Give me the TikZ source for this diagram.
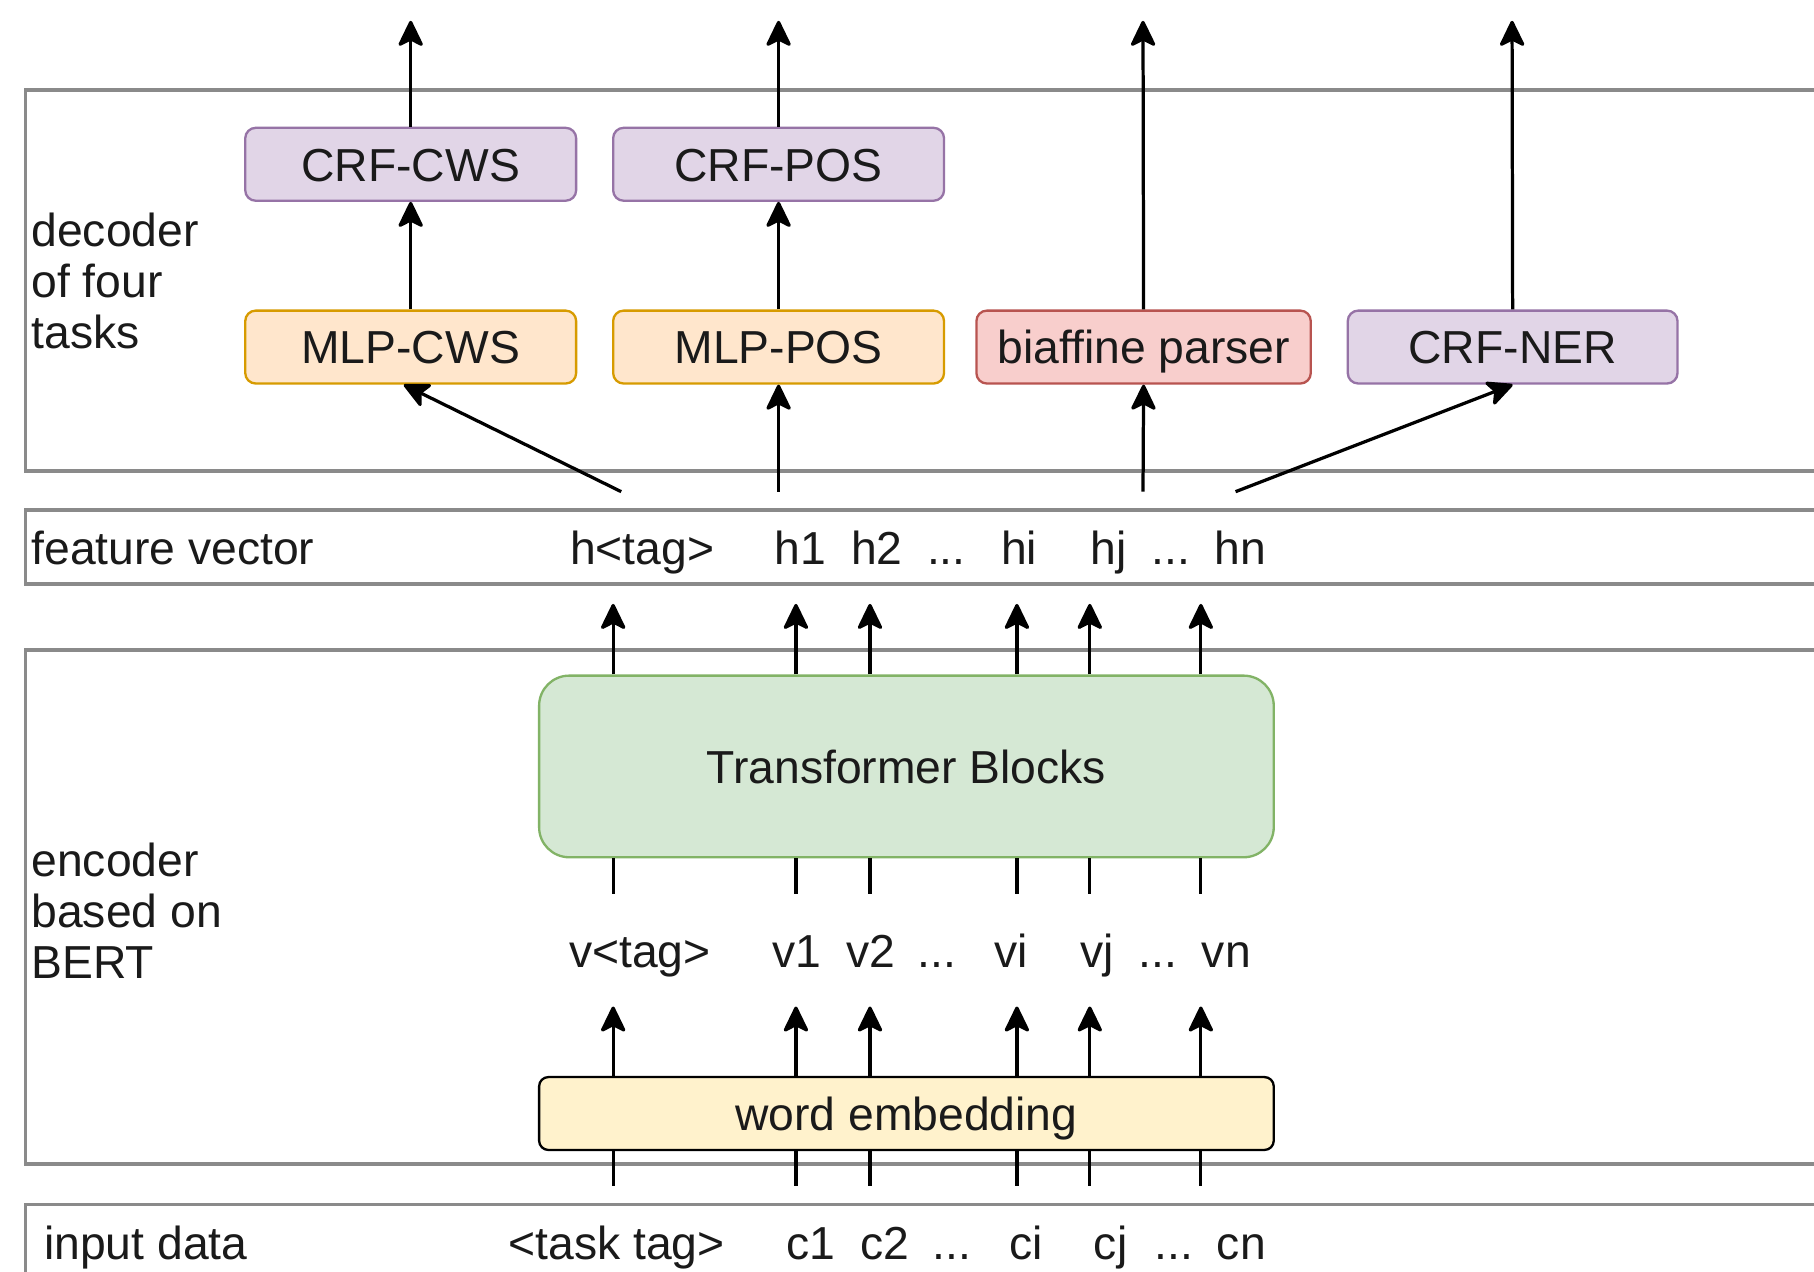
\documentclass[tikz,border=0pt]{standalone}
\usepackage{fontspec}
\setmainfont{Liberation Sans}
\usetikzlibrary{arrows.meta}
\definecolor{purpF}{HTML}{E1D5E7}
\definecolor{purpD}{HTML}{9673A6}
\definecolor{orgF}{HTML}{FFE6CC}
\definecolor{orgD}{HTML}{D79B00}
\definecolor{redF}{HTML}{F8CECC}
\definecolor{redD}{HTML}{B85450}
\definecolor{grnF}{HTML}{D5E8D4}
\definecolor{grnD}{HTML}{82B366}
\definecolor{ylwF}{HTML}{FFF2CC}
\definecolor{secD}{HTML}{8A8A8A}
\definecolor{txt}{HTML}{1A1A1A}
\begin{document}
\begin{tikzpicture}[x=1pt,y=-1pt,
  every node/.style={font=\fontsize{40}{44}\selectfont, inner sep=0pt, text=txt},
  sect/.style={draw=secD, line width=3pt},
  blk/.style={draw, line width=2pt, rounded corners=9pt, minimum height=63pt, text height=29pt, text depth=0pt},
  crf/.style={blk, fill=purpF, draw=purpD, minimum width=286pt},
  mlp/.style={blk, fill=orgF, draw=orgD, minimum width=286pt},
  arr/.style={line width=2.8pt, -{Stealth[length=25pt,width=24pt,inset=6pt,round]}},
  ln/.style={line width=2.8pt},
  lbl/.style={anchor=base}
]
\useasboundingbox (0,0) rectangle (1568,1099);
\fill[white] (0,0) rectangle (1568,1099);

% section frames
\draw[sect] (22,78) rectangle (1620,407);
\draw[sect] (22,441) rectangle (1620,505);
\draw[sect] (22,562) rectangle (1620,1006);
\draw[sect] (22,1041) rectangle (1620,1140);

% section labels
\node[anchor=west, align=left] (declbl) at (27,243) {decoder\\of four\\tasks};
\node[anchor=base west] (fvlbl) at (27,488) {feature vector};
\node[anchor=west, align=left] (enclbl) at (27,787) {encoder\\based on\\BERT};
\node[anchor=base west] (inlbl) at (38,1089) {input data};

% decoder blocks
\node[crf] (crfcws) at (355,142) {CRF-CWS};
\node[crf] (crfpos) at (673,142) {CRF-POS};
\node[mlp] (mlpcws) at (355,300) {MLP-CWS};
\node[mlp] (mlppos) at (673,300) {MLP-POS};
\node[blk, fill=redF, draw=redD, minimum width=289pt] (biaf) at (988.5,300) {biaffine parser};
\node[crf, minimum width=285pt] (crfner) at (1307.5,300) {CRF-NER};

% outputs
\coordinate (o1) at (355,18);
\coordinate (o2) at (673,18);
\coordinate (o3) at (988,18);
\coordinate (o4) at (1307,18);
\draw[arr] (crfcws.north) -- (o1);
\draw[arr] (crfpos.north) -- (o2);
\draw[arr] (biaf.north) -- (o3);
\draw[arr] (crfner.north) -- (o4);
\draw[arr] (mlpcws.north) -- (crfcws.south);
\draw[arr] (mlppos.north) -- (crfpos.south);

% feature vector to decoder
\coordinate (f0) at (537,425);
\coordinate (f1) at (673,425);
\coordinate (f2) at (988,425);
\coordinate (f3) at (1068,425);
\draw[arr] (f0) -- ([xshift=-6pt]mlpcws.south);
\draw[arr] (f1) -- (mlppos.south);
\draw[arr] (f2) -- (biaf.south);
\draw[arr] (f3) -- (crfner.south);

% feature labels
\node[lbl] (h0) at (555,488) {h<tag>};
\node[lbl] (h1) at (692,488) {h1};
\node[lbl] (h2) at (758,488) {h2};
\node[lbl] (hd1) at (818,488) {...};
\node[lbl] (hi) at (881,488) {hi};
\node[lbl] (hj) at (958,488) {hj};
\node[lbl] (hd2) at (1012,488) {...};
\node[lbl] (hn) at (1072,488) {hn};

% encoder blocks
\node[draw=grnD, fill=grnF, line width=2pt, rounded corners=26pt, minimum width=635pt, minimum height=157pt, text height=29pt, text depth=0pt] (tb) at (783.5,662.5) {Transformer Blocks};
\node[draw=black, fill=ylwF, line width=2pt, rounded corners=8pt, minimum width=635pt, minimum height=63pt, text height=29pt, text depth=0pt] (we) at (783.5,962.5) {word embedding};

% v labels
\node[lbl] (v0) at (553,836) {v<tag>};
\node[lbl] (v1) at (689,836) {v1};
\node[lbl] (v2) at (753,836) {v2};
\node[lbl] (vd1) at (810,836) {...};
\node[lbl] (vi) at (874,836) {vi};
\node[lbl] (vj) at (948,836) {vj};
\node[lbl] (vd2) at (1001,836) {...};
\node[lbl] (vn) at (1060,836) {vn};

% input labels
\node[lbl] (c0) at (533,1089) {<task tag>};
\node[lbl] (c1) at (701,1089) {c1};
\node[lbl] (c2) at (765,1089) {c2};
\node[lbl] (cd1) at (823,1089) {...};
\node[lbl] (ci) at (887,1089) {ci};
\node[lbl] (cj) at (960,1089) {cj};
\node[lbl] (cd2) at (1015,1089) {...};
\node[lbl] (cn) at (1073,1089) {cn};

% encoder columns
\foreach \x [count=\i] in {530,688,752,879,942,1038} {
  \coordinate (ta\i) at (\x,522);
  \coordinate (vt\i) at (\x,773);
  \coordinate (va\i) at (\x,870);
  \coordinate (ib\i) at (\x,1025);
  \draw[arr] (tb.north -| ta\i) -- (ta\i);
  \draw[ln] (tb.south -| vt\i) -- (vt\i);
  \draw[arr] (we.north -| va\i) -- (va\i);
  \draw[ln] (we.south -| ib\i) -- (ib\i);
}
\end{tikzpicture}
\end{document}
